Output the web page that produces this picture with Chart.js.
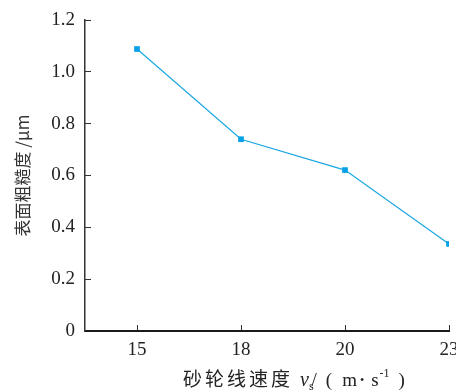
<!DOCTYPE html>
<html>
<head>
<meta charset="utf-8">
<script src="https://cdn.jsdelivr.net/npm/chart.js@4"></script>
<style>
  html, body { margin: 0; padding: 0; background: #fff; }
  #wrap { width: 456px; height: 391px; position: relative; }
</style>
</head>
<body>
<div id="wrap"><canvas id="chart"></canvas></div>
<script>
// wheel speed categories (m/s) and measured surface roughness (um)
const speeds = ["15", "18", "20", "23"];
const roughness = [1.088, 0.74, 0.621, 0.336];
const yTicks = [0, 0.2, 0.4, 0.6, 0.8, 1.0, 1.2];

const serif = '"Liberation Serif", "Times New Roman", serif';
const cjk = '"Noto Sans CJK SC", sans-serif';

// x title has a subscript and a superscript, so draw it piece by piece
const xTitle = {
  id: "xTitle",
  afterDraw(chart) {
    const ctx = chart.ctx;
    const parts = [
      { t: "砂轮线速度", f: "19px " + cjk, dy: 0, gap: 7, ls: "3px" },
      { t: "v", f: "italic 20px " + serif, dy: 0, gap: 0 },
      { t: "s", f: "12px " + serif, dy: 4, gap: -2 },
      { t: "/", f: "19px " + serif, dy: 0, gap: 9 },
      { t: "(", f: "19px " + serif, dy: 0, gap: 10 },
      { t: "m", f: "19px " + serif, dy: 0, gap: 3 },
      { t: "•", f: "12px " + serif, dy: -2, gap: 7 },
      { t: "s", f: "19px " + serif, dy: 0, gap: 1 },
      { t: "-1", f: "12px " + serif, dy: -9, gap: 9 },
      { t: ")", f: "19px " + serif, dy: 0, gap: 0 },
    ];
    let x = 183;
    const y = 386;
    ctx.save();
    ctx.fillStyle = "#222";
    ctx.textBaseline = "alphabetic";
    ctx.textAlign = "left";
    parts.forEach((p) => {
      ctx.font = p.f;
      ctx.letterSpacing = p.ls || "0px";
      ctx.fillText(p.t, x, y + p.dy);
      x += ctx.measureText(p.t).width + p.gap;
    });
    ctx.restore();
  },
};

const points = speeds.map((s, i) => ({ x: i, y: roughness[i] }));

new Chart(document.getElementById("chart"), {
  type: "line",
  data: {
    datasets: [
      {
        label: "roughness",
        data: points,
        borderColor: "#1aa7e2",
        backgroundColor: "#00a0e9",
        borderWidth: 1.2,
        pointStyle: "rect",
        pointRadius: 4,
        pointBorderWidth: 0,
        tension: 0,
      },
    ],
  },
  options: {
    responsive: true,
    maintainAspectRatio: false,
    animation: false,
    layout: { padding: { top: 20, right: 7, left: 0, bottom: 0 } },
    plugins: { legend: { display: false }, tooltip: { enabled: false } },
    scales: {
      x: {
        type: "linear",
        min: -0.5,
        max: 3,
        afterBuildTicks: (s) => {
          s.ticks = speeds.map((_, i) => ({ value: i }));
        },
        afterFit: (s) => {
          s.height = 60;
          s.paddingRight = 0;
          s.paddingLeft = 0;
        },
        ticks: {
          autoSkip: false,
          maxRotation: 0,
          color: "#222",
          font: { family: serif, size: 19 },
          padding: 14,
          callback: (v) => speeds[v] ?? "",
        },
        grid: {
          drawOnChartArea: false,
          drawTicks: true,
          tickLength: -6,
          color: "#333",
          lineWidth: 1,
        },
        border: { color: "#1a1a1a", width: 2 },
      },
      y: {
        min: 0,
        max: 1.2,
        afterBuildTicks: (s) => {
          s.ticks = yTicks.map((v) => ({ value: v }));
        },
        afterFit: (s) => {
          s.width = 85;
          s.paddingTop = 0;
          s.paddingBottom = 0;
        },
        ticks: {
          color: "#222",
          font: { family: serif, size: 19 },
          padding: 16,
          callback: (v) => (v === 0 ? "0" : v.toFixed(1)),
        },
        grid: {
          drawOnChartArea: false,
          drawTicks: true,
          tickLength: -6,
          color: "#333",
          lineWidth: 1,
        },
        border: { color: "#333", width: 1.5 },
        title: {
          display: true,
          text: "表面粗糙度 /μm",
          color: "#333",
          font: { family: cjk, size: 17 },
          padding: { top: 12, bottom: 0 },
        },
      },
    },
  },
  plugins: [xTitle],
});
</script>
</body>
</html>
